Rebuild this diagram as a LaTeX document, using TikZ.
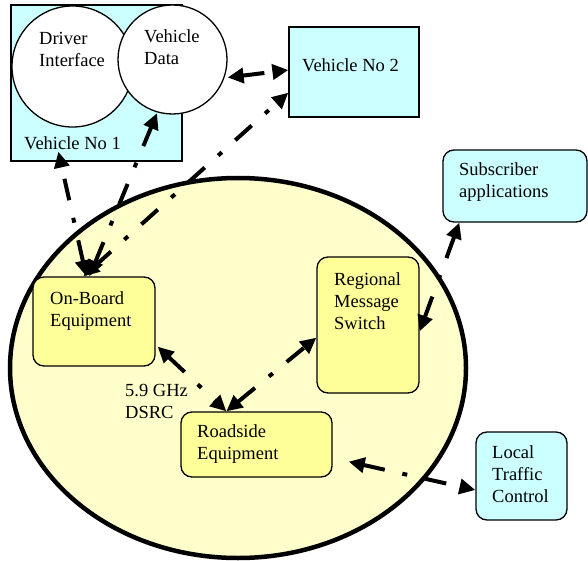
\documentclass[tikz,border=0pt]{standalone}
\usepackage{fontspec}
\setmainfont{Liberation Serif}
\usetikzlibrary{arrows.meta,shapes.geometric,calc}
\definecolor{vcyan}{RGB}{204,255,255}
\definecolor{rfill}{RGB}{255,255,204}
\definecolor{bfill}{RGB}{255,255,153}
\tikzset{
  vbox/.style={draw=black, line width=1.3pt, fill=vcyan, inner sep=0pt},
  ybox/.style={draw=black, line width=1.3pt, fill=bfill, rounded corners=11pt, inner sep=0pt},
  cbox/.style={draw=black, line width=1.3pt, fill=vcyan, rounded corners=11pt, inner sep=0pt},
  disc/.style={draw=black, line width=1.3pt, fill=white, circle, inner sep=0pt},
  lbl/.style={inner sep=0pt, anchor=base west, align=left, font=\fontsize{18.5}{22}\selectfont},
  link/.style={line width=4pt, dash pattern=on 22pt off 18pt on 5pt off 18pt,
    {Triangle[length=16pt,width=15pt]}-{Triangle[length=16pt,width=15pt]}}
}
\begin{document}
\begin{tikzpicture}[x=1pt,y=-1pt]
\path[use as bounding box, fill=white] (0,0) rectangle (588,561);
% vehicle 1
\node[vbox, minimum width=171pt, minimum height=156pt] (veh1) at (96.5,83) {};
\node[disc, minimum size=121pt] (di) at (72.5,66.5) {};
\node[disc, minimum size=109pt] (vd) at (172.5,59.5) {};
\node[lbl] (diT) at (39,67) {Driver\\Interface};
\node[lbl] (vdT) at (144,65) {Vehicle\\Data};
\node[lbl] (veh1T) at (24,150) {Vehicle No 1};
% vehicle 2
\node[vbox, minimum width=130pt, minimum height=90pt] (veh2) at (354,72) {};
\node[lbl] (veh2T) at (302,72) {Vehicle No 2};
% subscriber
\node[cbox, minimum width=144pt, minimum height=72pt] (sub) at (515,186) {};
\node[lbl] (subT) at (459,198) {Subscriber\\applications};
% region
\node[draw=black, line width=4.5pt, fill=rfill, ellipse, inner sep=0pt,
  minimum width=456pt, minimum height=380pt] (reg) at (238,368) {};
% inner boxes
\node[ybox, minimum width=122pt, minimum height=89pt] (obe) at (94,321.5) {};
\node[lbl] (obeT) at (50,326) {On-Board\\Equipment};
\node[ybox, minimum width=102pt, minimum height=136pt] (rms) at (368,325) {};
\node[lbl] (rmsT) at (334,329) {Regional\\Message\\Switch};
\node[ybox, minimum width=151pt, minimum height=65pt] (rse) at (256.5,444.5) {};
\node[lbl] (rseT) at (197,459) {Roadside\\Equipment};
\node[lbl] (dsrc) at (125,418) {5.9 GHz\\DSRC};
% local traffic control
\node[cbox, minimum width=91pt, minimum height=88pt] (ltc) at (521.5,476) {};
\node[lbl] (ltcT) at (492,502) {Local\\Traffic\\Control};
% connectors
\draw[link] ($(obe.north west)+(51,0)$) -- ($(veh2.south west)+(0,-25)$);
\draw[link] ($(obe.north west)+(57,0)$) -- ($(vd.south)+(-15.5,-1.5)$);
\draw[link] ($(obe.north west)+(54,0)$) -- ($(veh1.south west)+(48,-10)$);
\draw[link] ($(vd.east)+(0,18)$) -- ($(veh2.west)+(0,-2)$);
\draw[link] ($(obe.south east)+(2,-20)$) -- ($(rse.north west)+(46,0)$);
\draw[link] ($(rse.north west)+(46,0)$) -- ($(rms.south west)+(0,-56)$);
\draw[link] ($(rms.north east)+(0,75)$) -- ($(sub.south west)+(17,0)$);
\draw[link] ($(rse.south east)+(16,-16)$) -- ($(ltc.west)+(0,14)$);
\end{tikzpicture}
\end{document}
